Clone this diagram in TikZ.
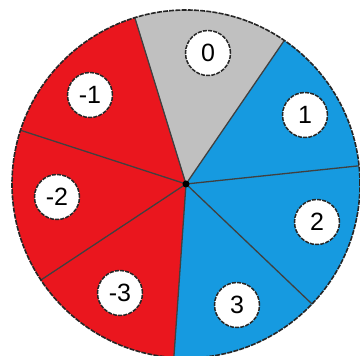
\documentclass[tikz,border=0pt]{standalone}
\usepackage{fontspec}
\setmainfont{Liberation Sans}
\definecolor{secred}{RGB}{234,22,30}
\definecolor{secblue}{RGB}{22,154,224}
\definecolor{secgray}{RGB}{192,192,192}
\begin{document}
\begin{tikzpicture}[x=1pt,y=1pt,
  rim/.style={draw=black!85,line width=1.6pt,dash pattern=on 5pt off 1.2pt},
  radial/.style={draw=black!75,line width=1.3pt},
  lab/.style={circle,fill=white,draw=black!85,line width=1.5pt,dash pattern=on 4pt off 1.2pt,minimum size=45pt,inner sep=0pt,font=\fontsize{25}{25}\selectfont}]
\useasboundingbox (0,0) rectangle (360,356);
\coordinate (C) at (186,172);
\def\R{174}
% sectors
\fill[secgray] (C) -- ++(55.6:\R) arc[start angle=55.6,end angle=107.1,radius=\R] -- cycle;
\fill[secred] (C) -- ++(107.1:\R) arc[start angle=107.1,end angle=266,radius=\R] -- cycle;
\fill[secblue] (C) -- ++(-94:\R) arc[start angle=-94,end angle=55.6,radius=\R] -- cycle;
% radial lines
\foreach \a in {107.1,55.6,6,-43.6,-94,-146.5,162}
  \draw[radial] (C) -- ++(\a:\R);
% rim
\draw[rim] (C) circle[radius=\R];
\fill[black] (C) circle[radius=3.5];
% labels
\node[lab] (l0) at (208,303) {0};
\node[lab] (l1) at (305,241) {1};
\node[lab] (l2) at (317,134) {2};
\node[lab] (l3) at (237,51) {3};
\node[lab] (lm3) at (120,63) {-3};
\node[lab] (lm2) at (57,159) {-2};
\node[lab] (lm1) at (90,261) {-1};
\end{tikzpicture}
\end{document}
